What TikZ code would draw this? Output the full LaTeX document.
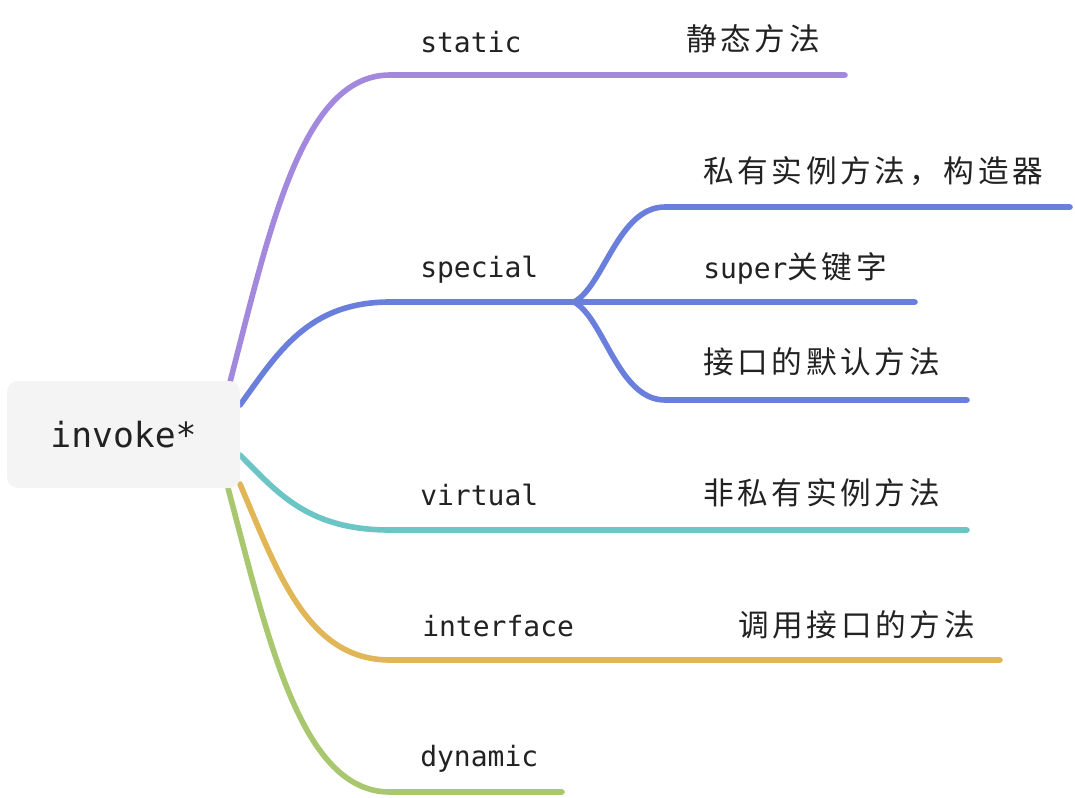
\documentclass[tikz,border=0pt]{standalone}
\usepackage{fontspec}
\newfontfamily\mono{DejaVu Sans Mono}
\newfontfamily\cjk[LetterSpace=12]{Noto Sans CJK SC}
\usetikzlibrary{backgrounds}
\definecolor{cpurple}{RGB}{163,137,222}
\definecolor{cblue}{RGB}{106,126,219}
\definecolor{cteal}{RGB}{106,197,196}
\definecolor{corange}{RGB}{225,182,86}
\definecolor{cgreen}{RGB}{168,199,110}
\definecolor{rootfill}{RGB}{244,244,244}
\definecolor{txt}{RGB}{34,34,34}
\tikzset{
  branch/.style={line width=4.2pt, line cap=round},
  lbl/.style={anchor=base west, inner sep=0pt, text=txt, font=\mono\fontsize{21pt}{24pt}\selectfont},
  clbl/.style={anchor=base west, inner sep=0pt, text=txt, font=\cjk\fontsize{23pt}{26pt}\selectfont},
  rootbox/.style={fill=rootfill, rounded corners=8pt, minimum width=174.75pt, minimum height=80.25pt, inner sep=0pt, text=txt, font=\mono\fontsize{26pt}{30pt}\selectfont}
}
\begin{document}
\begin{tikzpicture}[x=0.75pt,y=-0.75pt]
\useasboundingbox (0,0) rectangle (1075,797);
\node[rootbox] (root) at (123.5,434.5) {invoke*};
% labels
\node[lbl] (static) at (420,52) {static};
\node[clbl] (staticc) at (686,50) {静态方法};
\node[lbl] (special) at (420,277) {special};
\node[clbl] (sp1) at (703,182) {私有实例方法，构造器};
\node[clbl] (sp2) at (703,278) {{\mono\fontsize{21pt}{24pt}\selectfont super}关键字};
\node[clbl] (sp3) at (703,373) {接口的默认方法};
\node[lbl] (virtual) at (420,505) {virtual};
\node[clbl] (virtualc) at (703,504) {非私有实例方法};
\node[lbl] (interface) at (422,636) {interface};
\node[clbl] (interfacec) at (738,636) {调用接口的方法};
\node[lbl] (dynamic) at (420,766) {dynamic};
% coordinates
\coordinate (s0) at (230,382);
\coordinate (s1) at (390,75);
\coordinate (s2) at (845,75);
\coordinate (b0) at (240,405);
\coordinate (b1) at (390,302);
\coordinate (bj) at (574,302);
\coordinate (b2) at (915,302);
\coordinate (bu1) at (665,207);
\coordinate (bu2) at (1070,207);
\coordinate (bd1) at (665,400);
\coordinate (bd2) at (967,400);
\coordinate (t0) at (240,455);
\coordinate (t1) at (390,530);
\coordinate (t2) at (967,530);
\coordinate (o0) at (240,484);
\coordinate (o1) at (390,660);
\coordinate (o2) at (1000,660);
\coordinate (g0) at (228,488);
\coordinate (g1) at (390,792);
\coordinate (g2) at (562,792);
\begin{scope}[on background layer]
\draw[branch, cpurple] (s0) .. controls (270,228.5) and (302,75) .. (s1) -- (s2);
\draw[branch, cblue] (b0) .. controls (277.5,353.5) and (307.5,302) .. (b1) -- (bj) -- (b2);
\draw[branch, cblue] (bj) .. controls (604,286) and (618,207) .. (bu1) -- (bu2);
\draw[branch, cblue] (bj) .. controls (604,318) and (618,400) .. (bd1) -- (bd2);
\draw[branch, cteal] (t0) .. controls (277.5,492.5) and (307.5,530) .. (t1) -- (t2);
\draw[branch, corange] (o0) .. controls (277.5,572) and (307.5,660) .. (o1) -- (o2);
\draw[branch, cgreen] (g0) .. controls (268.5,640) and (301,792) .. (g1) -- (g2);
\end{scope}
\end{tikzpicture}
\end{document}
